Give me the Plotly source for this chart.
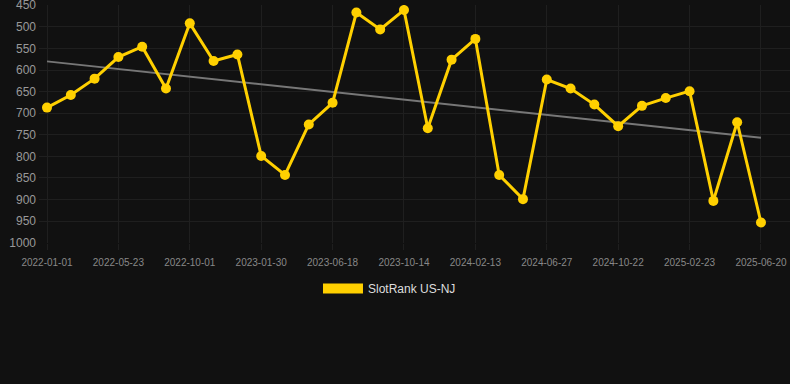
import plotly.graph_objects as go

dates = [
    "2022-01-01", "2022-02-17", "2022-04-05", "2022-05-23", "2022-07-05", "2022-08-18",
    "2022-10-01", "2022-11-10", "2022-12-20", "2023-01-30", "2023-03-16", "2023-05-02",
    "2023-06-18", "2023-07-27", "2023-09-05", "2023-10-14", "2023-11-24", "2024-01-03",
    "2024-02-13", "2024-03-28", "2024-05-13", "2024-06-27", "2024-08-04", "2024-09-13",
    "2024-10-22", "2024-12-02", "2025-01-12", "2025-02-23", "2025-04-03", "2025-05-12",
    "2025-06-20",
]
ranks = [
    687, 658, 620, 570, 546, 643, 492, 579, 564, 799, 843, 726, 676, 467, 506,
    461, 735, 576, 528, 843, 899, 622, 643, 680, 730, 683, 665, 649, 903, 721, 953,
]
trend_x = [dates[0], dates[-1]]
trend_y = [580, 757]
tick_labels = dates[::3]
y_ticks = [450, 500, 550, 600, 650, 700, 750, 800, 850, 900, 950, 1000]

GOLD = "#FFD000"
BG = "#111111"
GRID = "#1f1f1f"

fig = go.Figure()
fig.add_trace(go.Scatter(
    x=trend_x, y=trend_y, mode="lines",
    line=dict(color="#777777", width=2), showlegend=False, hoverinfo="skip",
))
fig.add_trace(go.Scatter(
    x=dates, y=ranks, mode="lines+markers",
    line=dict(color=GOLD, width=3), marker=dict(color=GOLD, size=10),
    showlegend=False, name="SlotRank US-NJ",
))
fig.add_trace(go.Scatter(
    x=[None], y=[None], mode="lines", name="SlotRank US-NJ",
    line=dict(color=GOLD, width=12), showlegend=True,
))

fig.update_layout(
    width=790, height=384,
    paper_bgcolor=BG, plot_bgcolor=BG,
    margin=dict(l=39, r=0, t=5, b=141, autoexpand=False),
    font=dict(family="Liberation Sans, Arial, sans-serif", color="#999999"),
    showlegend=True,
    legend=dict(
        orientation="h", x=0.4667, xanchor="center",
        y=-0.13, yanchor="top",
        font=dict(size=12, color="#dddddd"), itemwidth=40,
        bgcolor="rgba(0,0,0,0)",
    ),
    xaxis=dict(
        type="category", categoryorder="array", categoryarray=dates,
        range=[-0.336, 31.22],
        tickmode="array", tickvals=tick_labels, ticktext=tick_labels,
        tickfont=dict(size=10, color="#888888"), tickangle=0,
        showgrid=True, gridcolor=GRID, gridwidth=1,
        zeroline=False, showline=False,
        ticks="outside", ticklen=6, tickcolor=GRID, tickwidth=1,
        automargin=False, ticklabelstandoff=4, ticklabeloverflow="allow",
    ),
    yaxis=dict(
        autorange=False, range=[1000.5, 449.5],
        tickmode="array", tickvals=y_ticks,
        tickfont=dict(size=12, color="#999999"),
        showgrid=True, gridcolor=GRID, gridwidth=1,
        zeroline=False, showline=False, ticks="", ticklabelstandoff=2,
        automargin=False, ticklabeloverflow="allow",
    ),
)

fig.write_html(
    "out.html",
    config={"displayModeBar": False},
    post_script="document.body.style.margin='0';document.body.style.background='#111111';",
)
